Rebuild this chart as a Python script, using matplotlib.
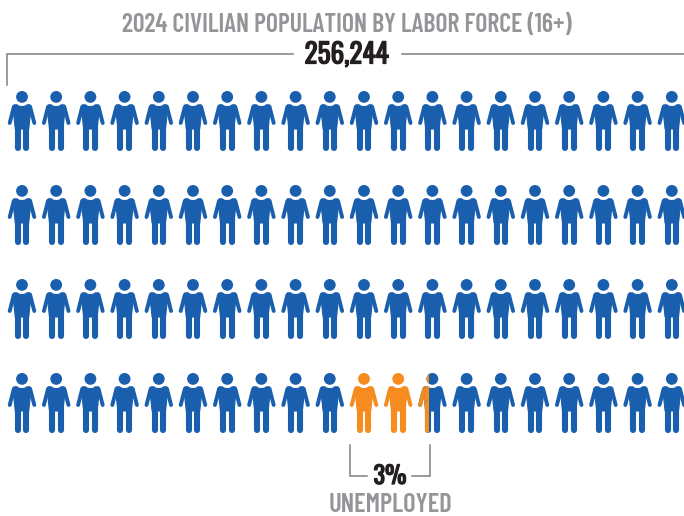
import numpy as np
import matplotlib
matplotlib.use("Agg")
import matplotlib.pyplot as plt
import matplotlib.patheffects as pe
from matplotlib.path import Path
from matplotlib.patches import PathPatch, Circle, Rectangle
from matplotlib.lines import Line2D
from matplotlib.transforms import Affine2D

plt.rcParams['font.family'] = ['Barlow Condensed', 'Liberation Sans', 'DejaVu Sans']
NUMBER_FONT = ['Oswald', 'Barlow Condensed', 'Liberation Sans', 'DejaVu Sans']

# data
title = "2024 CIVILIAN POPULATION BY LABOR FORCE (16+)"
total_label = "256,244"
pct_label = "3%"
pct_name = "UNEMPLOYED"
row_counts = [20, 20, 20, 20]
unemployed_row = 3
unemployed_start = 10
unemployed_icons = 2.4

BLUE = "#1a5fad"
ORANGE = "#f68b1f"
GREY = "#939598"
DARK = "#231f20"
LINE = "#7f8083"

# torso outline, relative to the top of the head
half = np.array([[0, 15.6], [3, 15.2], [5, 13.8], [8, 13.8], [9.2, 15.5],
                 [6.7, 38], [0, 38]])
torso = np.vstack((half, half[-2:0:-1] * [-1, 1]))
torso_path = Path(np.vstack((torso, torso[0])), closed=True)


def person(ax, cx, top, color, clip=None):
    tr = Affine2D().translate(cx, top) + ax.transData
    shapes = [PathPatch(torso_path, fc=color, ec=color, lw=0.8, joinstyle='round', transform=tr),
              Circle((0, 5.9), 5.9, fc=color, ec='none', transform=tr)]
    for side in (-1, 1):
        shapes.append(Line2D([side * 8.2, side * 12.3], [16, 32], color=color, lw=2.8,
                             solid_capstyle='round', transform=tr))
        shapes.append(Line2D([side * 4.3, side * 4.3], [30, 56.9], color=color, lw=4.4,
                             solid_capstyle='round', transform=tr))
    for s in shapes:
        ax.add_artist(s)
        if clip is not None:
            s.set_clip_path(clip)
        else:
            s.set_clip_on(False)


def fit_text(ax, x, y, s, color, width, **kw):
    # size is set from the width measured in the reference, so it holds for any font found
    t = ax.text(x, y, s, color=color, fontsize=20, fontweight='semibold', ha='center', va='baseline', **kw)
    w = t.get_window_extent(fig.canvas.get_renderer()).width
    t.set_fontsize(20 * width / w)
    return t


fig = plt.figure(figsize=(6.84, 5.16), dpi=100)
ax = fig.add_axes([0, 0, 1, 1])
ax.set_xlim(0, 684)
ax.set_ylim(516, 0)
ax.axis('off')

x0, dx = 22, 34.2
y0, dy = 91, 94
half_w = 14.7

for r, n in enumerate(row_counts):
    for c in range(n):
        cx = x0 + c * dx
        top = y0 + r * dy
        share = 0
        if r == unemployed_row and c >= unemployed_start:
            share = np.clip(unemployed_start + unemployed_icons - c, 0, 1)
        if share >= 1:
            person(ax, cx, top, ORANGE)
        elif share <= 0:
            person(ax, cx, top, BLUE)
        else:
            person(ax, cx, top, BLUE)
            split = Rectangle((cx - half_w, top - 1), 2 * half_w * share, 63,
                              transform=ax.transData)
            person(ax, cx, top, ORANGE, clip=split)

# top bracket
ax.plot([7, 7, 293], [85, 53.5, 53.5], color=LINE, lw=1.1, solid_joinstyle='miter')
ax.plot([402, 684], [53.5, 53.5], color=LINE, lw=1.1)
# bottom bracket
ax.plot([350, 350, 367], [445, 476, 476], color=LINE, lw=1.1, solid_joinstyle='miter')
ax.plot([412, 430, 430], [476, 476, 445], color=LINE, lw=1.1, solid_joinstyle='miter')

fit_text(ax, 347, 32, title, GREY, 450)
num_a = fit_text(ax, 346.5, 63.5, total_label, DARK, 84, family=NUMBER_FONT)
num_b = fit_text(ax, 390, 484, pct_label, DARK, 33, family=NUMBER_FONT)
fit_text(ax, 390, 512, pct_name, GREY, 124)

# numbers are heavier than the regular cut
for t in (num_a, num_b):
    t.set_path_effects([pe.withStroke(linewidth=0.9, foreground=DARK)])

fig.savefig("out.png", dpi=100)
